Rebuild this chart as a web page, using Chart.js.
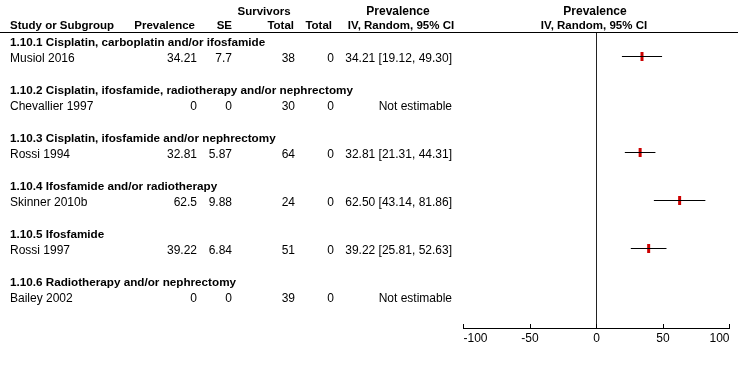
<!DOCTYPE html>
<html>
<head>
<meta charset="utf-8">
<script src="https://cdn.jsdelivr.net/npm/chart.js@4/dist/chart.umd.min.js"></script>
<style>
  html, body { margin: 0; padding: 0; background: #ffffff; }
  #wrap { width: 740px; height: 368px; }
</style>
</head>
<body>
<div id="wrap"><canvas id="c" width="740" height="368"></canvas></div>
<script>
// ---------- data ----------
const groups = [
  '1.10.1 Cisplatin, carboplatin and/or ifosfamide',
  '1.10.2 Cisplatin, ifosfamide, radiotherapy and/or nephrectomy',
  '1.10.3 Cisplatin, ifosfamide and/or nephrectomy',
  '1.10.4 Ifosfamide and/or radiotherapy',
  '1.10.5 Ifosfamide',
  '1.10.6 Radiotherapy and/or nephrectomy'
];
const studies = ['Musiol 2016', 'Chevallier 1997', 'Rossi 1994', 'Skinner 2010b', 'Rossi 1997', 'Bailey 2002'];
const prevalence = ['34.21', '0', '32.81', '62.5', '39.22', '0'];
const se = ['7.7', '0', '5.87', '9.88', '6.84', '0'];
const survivorsTotal = [38, 30, 64, 24, 51, 39];
const total = [0, 0, 0, 0, 0, 0];
const ciEffect = [34.21, null, 32.81, 62.50, 39.22, null];
const ciLower = [19.12, null, 21.31, 43.14, 25.81, null];
const ciUpper = [49.30, null, 44.31, 81.86, 52.63, null];
const xTicks = [-100, -50, 0, 50, 100];

// ---------- layout helpers ----------
const FONT = "'Liberation Sans', Arial, sans-serif";
const Y_MAX = 18.46875;              // rows of 16px within the plot area
const headY = k => 0.5 + 3 * k;      // group heading row value
const studyY = k => 1.5 + 3 * k;     // study row value

// ---------- datasets ----------
const datasets = [];
// vertical line of no effect
datasets.push({
  type: 'scatter', data: [{x: 0, y: 0}, {x: 0, y: Y_MAX}],
  showLine: true, borderColor: '#222', borderWidth: 1, pointRadius: 0
});
// CI lines
studies.forEach((s, k) => {
  if (ciEffect[k] === null) return;
  datasets.push({
    type: 'scatter', data: [{x: ciLower[k], y: studyY(k)}, {x: ciUpper[k], y: studyY(k)}],
    showLine: true, borderColor: '#000', borderWidth: 1, pointRadius: 0
  });
});
// point estimates
datasets.push({
  type: 'scatter',
  data: studies.map((s, k) => ciEffect[k] === null ? null : {x: ciEffect[k], y: studyY(k)}).filter(p => p),
  pointStyle: 'line', rotation: 90, pointRadius: 4.5,
  borderColor: '#cc0000', backgroundColor: '#cc0000', pointBorderWidth: 3, borderWidth: 3
});

// ---------- table text plugin ----------
const tablePlugin = {
  id: 'table',
  afterDraw(chart) {
    const ctx = chart.ctx;
    const ys = chart.scales.y;
    const xs = chart.scales.x;
    ctx.save();
    ctx.fillStyle = '#000';
    ctx.textBaseline = 'alphabetic';
    const txt = (t, x, y, align, weight, size) => {
      ctx.font = weight + ' ' + size + 'px ' + FONT;
      ctx.textAlign = align;
      ctx.fillText(t, x, y);
    };
    const H = 11.5;
    // headers
    txt('Survivors', 264, 15, 'center', 'bold', H);
    txt('Prevalence', 398, 15, 'center', 'bold', H + 0.5);
    txt('Prevalence', 595, 15, 'center', 'bold', H + 0.5);
    txt('Study or Subgroup', 10, 28.5, 'left', 'bold', H);
    txt('Prevalence', 195, 28.5, 'right', 'bold', H);
    txt('SE', 232, 28.5, 'right', 'bold', H);
    txt('Total', 294, 28.5, 'right', 'bold', H);
    txt('Total', 332, 28.5, 'right', 'bold', H);
    txt('IV, Random, 95% CI', 401, 28.5, 'center', 'bold', H);
    txt('IV, Random, 95% CI', 594, 28.5, 'center', 'bold', H);
    // header rule
    ctx.strokeStyle = '#000';
    ctx.lineWidth = 1;
    ctx.beginPath();
    ctx.moveTo(0, 32.5); ctx.lineTo(738, 32.5);
    ctx.stroke();
    // rows
    groups.forEach((g, k) => {
      const yh = ys.getPixelForValue(headY(k)) + 5.5;
      txt(g, 10, yh, 'left', 'bold', 11.7);
      const y = ys.getPixelForValue(studyY(k)) + 5.5;
      txt(studies[k], 10, y, 'left', 'normal', 12);
      txt(prevalence[k], 197, y, 'right', 'normal', 12);
      txt(se[k], 232, y, 'right', 'normal', 12);
      txt(String(survivorsTotal[k]), 295, y, 'right', 'normal', 12);
      txt(String(total[k]), 334, y, 'right', 'normal', 12);
      const ci = ciEffect[k] === null ? 'Not estimable'
        : ciEffect[k].toFixed(2) + ' [' + ciLower[k].toFixed(2) + ', ' + ciUpper[k].toFixed(2) + ']';
      txt(ci, 452, y, 'right', 'normal', 12);
    });
    // upward tick marks on the x axis
    const yb = chart.chartArea.bottom;
    ctx.strokeStyle = '#000';
    ctx.beginPath();
    xs.ticks.forEach(t => {
      const px = Math.floor(xs.getPixelForValue(t.value)) + 0.5;
      ctx.moveTo(px, yb - 4); ctx.lineTo(px, yb);
    });
    ctx.stroke();
    ctx.restore();
  }
};

new Chart(document.getElementById('c'), {
  type: 'scatter',
  data: { datasets },
  options: {
    responsive: false,
    animation: false,
    layout: { padding: { left: 463.5, right: 10.5, top: 32.5, bottom: 0 } },
    plugins: { legend: { display: false }, tooltip: { enabled: false } },
    scales: {
      x: {
        type: 'linear', min: -100, max: 100,
        afterBuildTicks: s => { s.ticks = xTicks.map(v => ({ value: v })); },
        afterFit: s => { s.height = 40; },
        grid: { display: false, drawTicks: false },
        border: { display: true, color: '#000', width: 1 },
        ticks: { align: 'inner', padding: 3, color: '#000', font: { size: 12, family: FONT } }
      },
      y: {
        type: 'linear', min: 0, max: Y_MAX, reverse: true, display: false
      }
    }
  },
  plugins: [tablePlugin]
});
</script>
</body>
</html>
